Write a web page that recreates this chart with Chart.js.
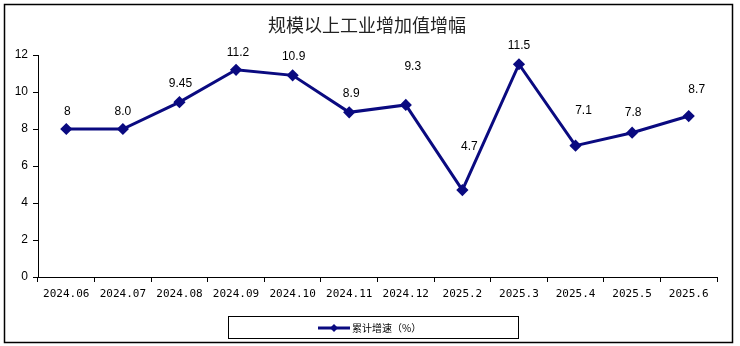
<!DOCTYPE html>
<html>
<head>
<meta charset="utf-8">
<script src="https://cdn.jsdelivr.net/npm/chart.js@4"></script>
<style>
  html, body { margin: 0; padding: 0; background: #fff; }
  #wrap { width: 740px; height: 346px; }
</style>
</head>
<body>
<div id="wrap"><canvas id="myChart" width="740" height="346"></canvas></div>
<script>
var months = ['2024.06', '2024.07', '2024.08', '2024.09', '2024.10', '2024.11', '2024.12', '2025.2', '2025.3', '2025.4', '2025.5', '2025.6'];
var growth = [8, 8.0, 9.45, 11.2, 10.9, 8.9, 9.3, 4.7, 11.5, 7.1, 7.8, 8.7];
var growthText = ['8', '8.0', '9.45', '11.2', '10.9', '8.9', '9.3', '4.7', '11.5', '7.1', '7.8', '8.7'];
var seriesName = '累计增速（%）';
var chartTitle = '规模以上工业增加值增幅';

// label nudges (dx, dy) so the numbers sit like the original
var labelShift = [[1, -17], [0, -17], [1, -18], [2, -17], [1, -19], [2, -19], [7, -38], [7, -43], [0, -19], [8, -35], [1, -20], [8, -26]];

var lineColor = '#0a0a80';

var framePlugin = {
  id: 'frame',
  beforeDraw: function (chart) {
    var c = chart.ctx;
    c.save();
    c.fillStyle = '#fff';
    c.fillRect(0, 0, chart.width, chart.height);
    c.restore();
  },
  afterDraw: function (chart) {
    var c = chart.ctx;
    c.save();
    // outer border
    c.strokeStyle = '#000';
    c.lineWidth = 1.5;
    c.strokeRect(4.5, 4.5, 728, 338);

    // title
    c.fillStyle = '#222';
    c.font = '18px "Noto Sans CJK SC", sans-serif';
    c.textAlign = 'center';
    c.textBaseline = 'middle';
    c.fillText(chartTitle, 367, 25);

    // value labels
    var meta = chart.getDatasetMeta(0);
    c.fillStyle = '#000';
    c.font = '12px "Liberation Sans", Arial, sans-serif';
    meta.data.forEach(function (pt, i) {
      c.fillText(growthText[i], pt.x + labelShift[i][0], pt.y + labelShift[i][1]);
    });

    // legend box
    c.strokeStyle = '#000';
    c.lineWidth = 1;
    c.strokeRect(228.5, 316.5, 290, 22);
    c.strokeStyle = lineColor;
    c.lineWidth = 3;
    c.beginPath();
    c.moveTo(318, 328);
    c.lineTo(350, 328);
    c.stroke();
    c.fillStyle = lineColor;
    c.beginPath();
    c.moveTo(334, 324);
    c.lineTo(338, 328);
    c.lineTo(334, 332);
    c.lineTo(330, 328);
    c.closePath();
    c.fill();
    c.fillStyle = '#000';
    c.font = '10px "Noto Sans CJK SC", sans-serif';
    c.textAlign = 'left';
    c.fillText(seriesName, 352, 328);
    c.restore();
  }
};

var ctx = document.getElementById('myChart').getContext('2d');

var myChart = new Chart(ctx, {
  type: 'line',
  data: {
    labels: months,
    datasets: [{
      label: seriesName,
      data: growth,
      borderColor: lineColor,
      backgroundColor: lineColor,
      borderWidth: 3,
      pointStyle: 'rectRot',
      pointRadius: 4,
      pointBackgroundColor: lineColor,
      pointBorderColor: lineColor,
      tension: 0
    }]
  },
  options: {
    responsive: false,
    animation: false,
    layout: {
      padding: { left: 0, right: 23, top: 55, bottom: 39 }
    },
    plugins: {
      legend: { display: false },
      tooltip: { enabled: false }
    },
    scales: {
      x: {
        offset: true,
        grid: {
          offset: true,
          drawOnChartArea: false,
          color: '#000',
          tickLength: 5
        },
        border: { color: '#000', width: 1 },
        ticks: {
          color: '#000',
          padding: 6,
          maxRotation: 0,
          autoSkip: false,
          font: { family: '"DejaVu Sans Mono", monospace', size: 11 }
        },
        afterFit: function (scale) { scale.height = 30; }
      },
      y: {
        min: 0,
        max: 12,
        ticks: {
          stepSize: 2,
          color: '#000',
          padding: 5,
          font: { family: '"Liberation Sans", Arial, sans-serif', size: 12 }
        },
        grid: {
          drawOnChartArea: false,
          color: '#000',
          tickLength: 5
        },
        border: { color: '#000', width: 1 },
        afterFit: function (scale) { scale.width = 38; }
      }
    }
  },
  plugins: [framePlugin]
});
</script>
</body>
</html>
